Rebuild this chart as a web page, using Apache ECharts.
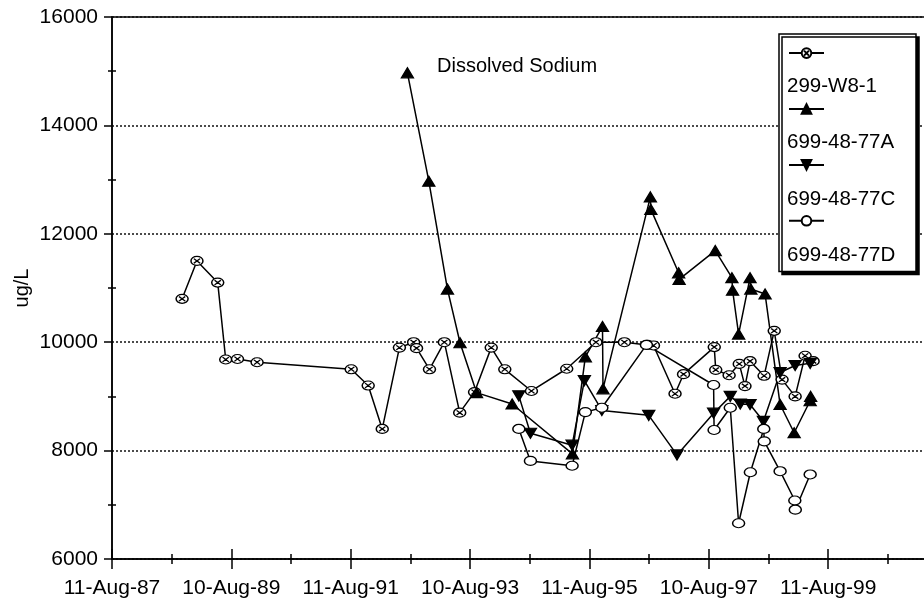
<!DOCTYPE html>
<html>
<head>
<meta charset="utf-8">
<script src="https://cdn.jsdelivr.net/npm/echarts@6/dist/echarts.min.js"></script>
<style>
  html, body { margin: 0; padding: 0; background: #fff; }
  #chart { width: 924px; height: 606px; }
</style>
</head>
<body>
<div id="chart"></div>
<script>
// Dissolved sodium (ug/L) in four monitoring wells, 1988-1999

const seriesNames = ['299-W8-1', '699-48-77A', '699-48-77C', '699-48-77D'];
const chartTitle = 'Dissolved Sodium';
const yAxisName = 'ug/L';
const xTickLabels = ['11-Aug-87', '10-Aug-89', '11-Aug-91', '10-Aug-93', '11-Aug-95', '10-Aug-97', '11-Aug-99'];

const w8Dates = ['1988-10-13', '1989-01-12', '1989-05-19', '1989-07-07', '1989-09-17', '1990-01-15',
  '1991-08-14', '1991-11-26', '1992-02-20', '1992-06-04', '1992-08-30', '1992-09-17', '1992-12-05',
  '1993-03-06', '1993-06-08', '1993-09-07', '1993-12-18', '1994-03-11', '1994-08-21', '1995-03-25',
  '1995-09-20', '1996-03-12', '1996-07-31', '1996-09-06', '1997-01-16', '1997-03-09', '1997-09-13',
  '1997-09-22', '1997-12-13', '1998-02-13', '1998-03-20', '1998-04-20', '1998-07-15', '1998-09-15',
  '1998-11-02', '1999-01-21', '1999-03-23', '1999-05-11'];
const w8Values = [10800, 11500, 11100, 9680, 9690, 9630,
  9500, 9200, 8400, 9900, 10000, 9890, 9500,
  10000, 8700, 9080, 9900, 9500, 9100, 9510,
  10000, 10000, 9950, 9940, 9050, 9410, 9910,
  9490, 9390, 9600, 9190, 9650, 9380, 10210,
  9310, 9000, 9750, 9650];

const a77Dates = ['1992-07-23', '1992-12-01', '1993-03-25', '1993-06-10', '1993-09-19', '1994-04-25',
  '1995-04-29', '1995-07-17', '1995-10-30', '1995-11-02', '1996-08-18', '1996-08-21', '1997-02-07',
  '1997-02-10', '1997-09-19', '1997-12-30', '1998-01-03', '1998-02-09', '1998-04-20', '1998-04-25',
  '1998-07-21', '1998-10-21', '1999-01-15', '1999-04-23', '1999-04-26'];
const a77Values = [14970, 12970, 10980, 9990, 9070, 8860,
  7940, 9730, 10290, 9140, 12680, 12450, 11280,
  11160, 11690, 11190, 10960, 10150, 11190, 10980,
  10890, 8850, 8330, 8920, 9000];

const c77Dates = ['1994-06-05', '1994-08-15', '1995-04-27', '1995-07-11', '1995-10-26', '1996-08-08',
  '1997-01-28', '1997-09-09', '1997-12-20', '1998-02-19', '1998-04-20', '1998-07-11', '1998-10-21',
  '1999-01-21', '1999-04-23'];
const c77Values = [9010, 8320, 8100, 9290, 8740, 8650,
  7920, 8690, 9000, 8860, 8850, 8540, 9440,
  9570, 9610];

const d77Dates = ['1994-06-05', '1994-08-15', '1995-04-27', '1995-07-17', '1995-10-26', '1996-07-25',
  '1997-09-09', '1997-09-12', '1997-12-20', '1998-02-09', '1998-04-22', '1998-07-13', '1998-07-16',
  '1998-10-21', '1999-01-19', '1999-01-22', '1999-04-23'];
const d77Values = [8400, 7810, 7720, 8710, 8790, 9950,
  9210, 8380, 8790, 6660, 7600, 8400, 8170,
  7620, 7080, 6910, 7560];

// The time axis counts days from the first tick date (11-Aug-87)
const DAY = 86400000;
const ORIGIN = Date.UTC(1987, 7, 11);
const TICK_DAYS = 730.5;                 // two-year major unit
const X_MAX = TICK_DAYS * 7;
const toDays = d => (Date.parse(d + 'T00:00:00Z') - ORIGIN) / DAY;
const pairs = (dates, values) => dates.map((d, i) => [toDays(d), values[i]]);

const FONT = '"Liberation Sans", Arial, Helvetica, sans-serif';
const INK = '#000';

const crossedCircle = 'path://M0,5A5,5,0,1,1,10,5A5,5,0,1,1,0,5ZM2.4,2.4L7.6,7.6M2.4,7.6L7.6,2.4';
const downTriangle = 'path://M0,0L10,0L5,9Z';

function lineSeries(name, data, symbol, size, fill) {
  return {
    name: name,
    type: 'line',
    data: data,
    symbol: symbol,
    symbolSize: size,
    showSymbol: true,
    lineStyle: { color: INK, width: 1.5 },
    itemStyle: { color: fill, borderColor: INK, borderWidth: 1.3 },
    emphasis: { disabled: true },
    animation: false
  };
}

const xLabelFor = v => {
  const k = Math.round(v / TICK_DAYS);
  return Math.abs(v - k * TICK_DAYS) < 1e-6 && k < xTickLabels.length ? xTickLabels[k] : '';
};

const tickLine = { color: INK, width: 1.5 };

const chart = echarts.init(document.getElementById('chart'), null, { renderer: 'canvas' });

const legendTop = 34;
const legendIconY = 53.3;
const legendStep = 56.3;

chart.setOption({
  animation: false,
  backgroundColor: '#fff',
  textStyle: { fontFamily: FONT, color: INK },
  title: {
    text: chartTitle,
    left: 437,
    top: 56,
    padding: 0,
    textStyle: { fontFamily: FONT, fontSize: 20, fontWeight: 'normal', color: INK }
  },
  grid: {
    left: 112,
    top: 17,
    right: -23.5,
    bottom: 47,
    show: true,
    borderColor: INK,
    borderWidth: 1.5,
    backgroundColor: 'transparent',
    containLabel: false,
    outerBoundsMode: 'none'
  },
  xAxis: [
    {
      type: 'value',
      position: 'bottom',
      min: 0,
      max: X_MAX,
      interval: TICK_DAYS,
      axisLine: { show: true, lineStyle: tickLine },
      axisTick: { show: true, length: 10, lineStyle: tickLine },
      minorTick: { show: true, splitNumber: 2, length: 5, lineStyle: tickLine },
      axisLabel: {
        show: true, margin: 19, fontSize: 21, color: INK, fontFamily: FONT,
        formatter: xLabelFor, showMaxLabel: false
      },
      splitLine: { show: false },
      minorSplitLine: { show: false }
    },
    {
      type: 'value',
      position: 'bottom',
      min: 0,
      max: X_MAX,
      interval: TICK_DAYS,
      axisLine: { show: false },
      axisTick: { show: true, inside: true, length: 10, lineStyle: tickLine },
      minorTick: { show: true, splitNumber: 2, length: 5, lineStyle: tickLine },
      axisLabel: { show: false },
      splitLine: { show: false }
    }
  ],
  yAxis: [
    {
      type: 'value',
      position: 'left',
      min: 6000,
      max: 16000,
      interval: 2000,
      name: yAxisName,
      nameLocation: 'middle',
      nameRotate: 90,
      nameGap: 80,
      nameMoveOverlap: false,
      nameTextStyle: { fontSize: 20, color: INK, fontFamily: FONT },
      axisLine: { show: true, lineStyle: tickLine },
      axisTick: { show: true, length: 8, lineStyle: tickLine },
      minorTick: { show: true, splitNumber: 2, length: 4, lineStyle: tickLine },
      axisLabel: {
        show: true, margin: 14, fontSize: 21, color: INK, fontFamily: FONT,
        formatter: v => String(v)
      },
      splitLine: { show: true, lineStyle: { color: '#111', width: 1.5, type: [2, 2] } }
    },
    {
      type: 'value',
      position: 'left',
      min: 6000,
      max: 16000,
      interval: 2000,
      axisLine: { show: false },
      axisTick: { show: true, inside: true, length: 0.01, lineStyle: { color: 'transparent' } },
      minorTick: { show: true, splitNumber: 2, length: 4, lineStyle: tickLine },
      axisLabel: { show: false },
      splitLine: { show: false }
    }
  ],
  legend: {
    data: seriesNames,
    orient: 'vertical',
    left: 779,
    top: legendTop,
    itemWidth: 35,
    itemHeight: 12,
    itemGap: legendStep - 12,
    padding: [legendIconY - 6 - legendTop, 87, 45, 9],
    formatter: () => '',
    textStyle: { fontSize: 1, lineHeight: 1 },
    selectedMode: false,
    backgroundColor: '#fff',
    borderColor: INK,
    borderWidth: 1.5,
    borderRadius: 0,
    shadowColor: INK,
    shadowOffsetX: 3,
    shadowOffsetY: 3,
    shadowBlur: 0
  },
  graphic: seriesNames.map((name, i) => ({
    type: 'text',
    x: 787,
    y: legendIconY + 33 + i * legendStep,
    z: 100,
    style: { text: name, fontSize: 20.5, fontFamily: FONT, fill: INK, verticalAlign: 'middle' }
  })),
  series: [
    lineSeries(seriesNames[0], pairs(w8Dates, w8Values), crossedCircle, [12, 9], '#fff'),
    lineSeries(seriesNames[1], pairs(a77Dates, a77Values), 'triangle', [12, 10], INK),
    lineSeries(seriesNames[2], pairs(c77Dates, c77Values), downTriangle, [12, 10], INK),
    lineSeries(seriesNames[3], pairs(d77Dates, d77Values), 'circle', [12, 9], '#fff')
  ]
});
</script>
</body>
</html>
